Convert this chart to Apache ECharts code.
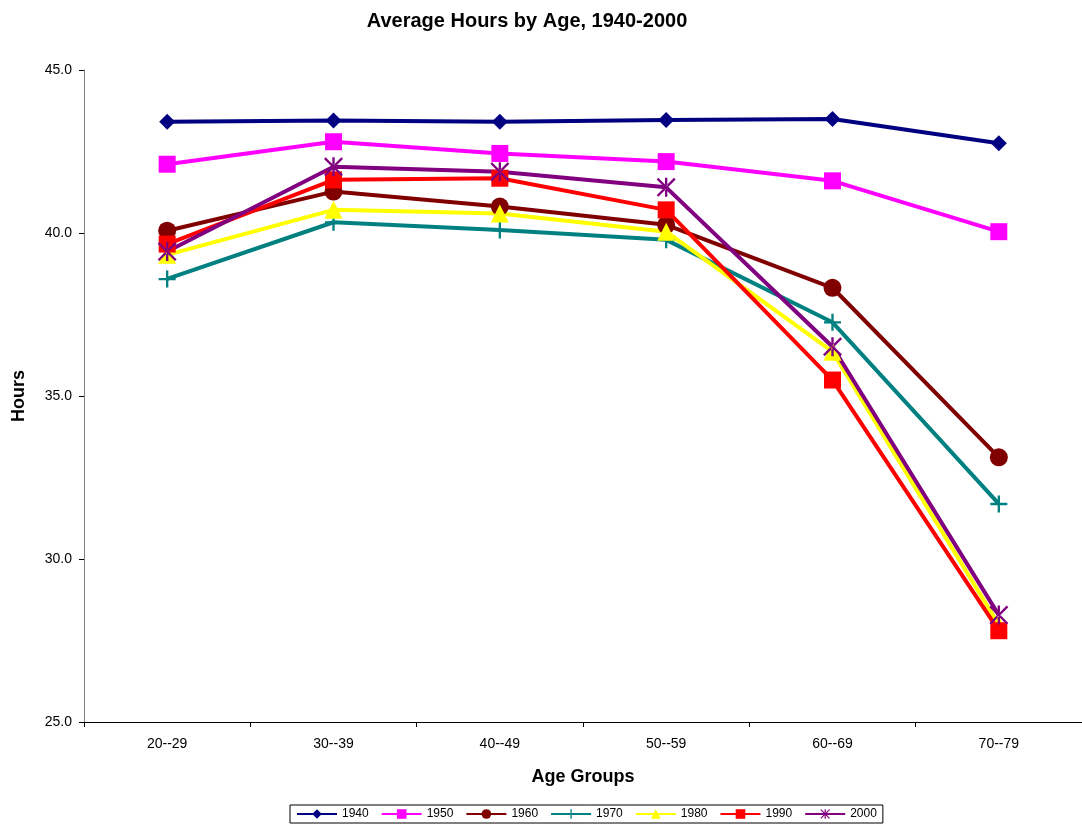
<!DOCTYPE html>
<html>
<head>
<meta charset="utf-8">
<script src="https://cdn.jsdelivr.net/npm/echarts@6/dist/echarts.min.js"></script>
<style>
html,body{margin:0;padding:0;background:#fff;}
#chart{width:1082px;height:829px;}
</style>
</head>
<body>
<div id="chart"></div>
<script>
const categories = ['20--29', '30--39', '40--49', '50--59', '60--69', '70--79'];
const years = ['1940', '1950', '1960', '1970', '1980', '1990', '2000'];
const s1940 = [43.41, 43.45, 43.41, 43.47, 43.50, 42.75];
const s1950 = [42.11, 42.80, 42.44, 42.19, 41.60, 40.04];
const s1960 = [40.07, 41.27, 40.81, 40.25, 38.32, 33.12];
const s1970 = [38.59, 40.33, 40.09, 39.79, 37.26, 31.69];
const s1980 = [39.33, 40.71, 40.60, 40.04, 36.36, 27.98];
const s1990 = [39.66, 41.63, 41.68, 40.71, 35.49, 27.80];
const s2000 = [39.43, 42.03, 41.88, 41.40, 36.51, 28.28];
const yTicks = { min: 25, max: 45, interval: 5 };

const seriesData = [s1940, s1950, s1960, s1970, s1980, s1990, s2000];
const colors = ['#000080', '#FF00FF', '#800000', '#008080', '#FFFF00', '#FF0000', '#800080'];
const plusPath = 'path://M0,7H16V9.2H0Z M6.9,0H9.1V16H6.9Z';
const starPath = 'path://M7,0H9V16H7Z M0,1.4L1.4,0L16,14.6L14.6,16Z M16,1.4L14.6,0L0,14.6L1.4,16Z';
const symbols = ['diamond', 'rect', 'circle', plusPath, 'triangle', 'rect', starPath];
const sizes = [16, 17, 18, 17, 18, 17, 19];

const chart = echarts.init(document.getElementById('chart'));
chart.setOption({
  backgroundColor: '#fff',
  animation: false,
  textStyle: { fontFamily: 'Liberation Sans, Arial, sans-serif' },
  title: {
    text: 'Average Hours by Age, 1940-2000',
    left: 522, top: 6, textAlign: 'center',
    textStyle: { fontSize: 20, fontWeight: 'bold', color: '#000', fontFamily: 'Liberation Sans, Arial, sans-serif' }
  },
  grid: { left: 84, right: 0, top: 70, bottom: 107, containLabel: false },
  legend: {
    bottom: 6, left: 290,
    data: years,
    itemWidth: 40, itemHeight: 12, itemGap: 12,
    borderColor: '#000', borderWidth: 1, borderRadius: 0,
    padding: [3, 6, 3, 6],
    textStyle: { fontSize: 12, color: '#000' }
  },
  xAxis: {
    type: 'category', data: categories, boundaryGap: true,
    name: 'Age Groups', nameLocation: 'middle', nameGap: 46,
    nameTextStyle: { fontSize: 18, fontWeight: 'bold', color: '#000' },
    axisLine: { lineStyle: { color: '#000', width: 1 } },
    axisTick: { show: true, length: 5, lineStyle: { color: '#000' } },
    axisLabel: { fontSize: 14, color: '#000', margin: 15 },
    splitLine: { show: false }
  },
  yAxis: {
    type: 'value', min: yTicks.min, max: yTicks.max, interval: yTicks.interval,
    name: 'Hours', nameLocation: 'middle', nameGap: 56,
    nameTextStyle: { fontSize: 18, fontWeight: 'bold', color: '#000' },
    axisLine: { show: true, lineStyle: { color: '#808080', width: 1 } },
    axisTick: { show: true, length: 5, lineStyle: { color: '#000' } },
    axisLabel: { fontSize: 14, color: '#000', margin: 12, formatter: v => v.toFixed(1) },
    splitLine: { show: false }
  },
  series: years.map((y, i) => ({
    name: y, type: 'line', data: seriesData[i],
    symbol: symbols[i], symbolSize: sizes[i], showAllSymbol: true,
    lineStyle: { color: colors[i], width: 4 },
    itemStyle: { color: colors[i], borderWidth: 0 },
    emphasis: { disabled: true }
  }))
});
</script>
</body>
</html>
